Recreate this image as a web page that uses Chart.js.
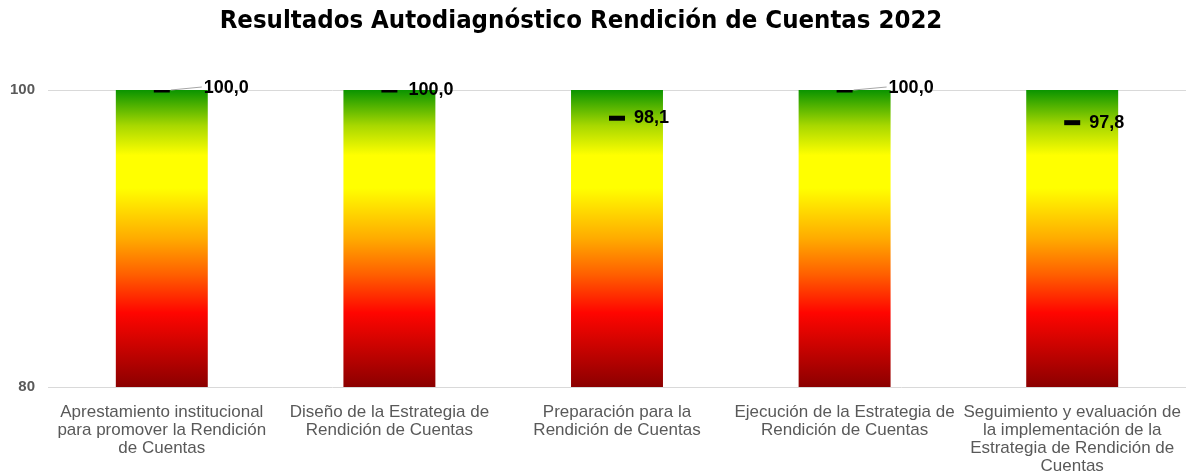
<!DOCTYPE html>
<html>
<head>
<meta charset="utf-8">
<script src="https://cdn.jsdelivr.net/npm/chart.js@4"></script>
<style>
  html, body { margin: 0; padding: 0; background: #fff; }
  #wrap { width: 1199px; height: 475px; }
</style>
</head>
<body>
<div id="wrap"><canvas id="chart"></canvas></div>
<script>
// categorias (eje x)
const categorias = [
    ['Aprestamiento institucional', 'para promover la Rendición', 'de Cuentas'],
    ['Diseño de la Estrategia de', 'Rendición de Cuentas'],
    ['Preparación para la', 'Rendición de Cuentas'],
    ['Ejecución de la Estrategia de', 'Rendición de Cuentas'],
    ['Seguimiento y evaluación de', 'la implementación de la', 'Estrategia de Rendición de', 'Cuentas']
];
// resultado de cada componente
const resultados = [100.0, 100.0, 98.1, 100.0, 97.8];
// tope de la barra de color (escala de semaforo)
const topeEscala = [100, 100, 100, 100, 100];
const ticksY = [80, 100];
const titulo = 'Resultados Autodiagnóstico Rendición de Cuentas 2022';

// desplazamiento de cada etiqueta (x, y) y si lleva linea guia
const etiquetaDx = [42, 19, 17, 44, 17];
const etiquetaDy = [-2, 0, 0, -2, 0];
const conGuia = [true, false, false, true, false];

function gradienteSemaforo(ctx) {
    const area = ctx.chart.chartArea;
    if (!area) return '#ffff00';
    const g = ctx.chart.ctx.createLinearGradient(0, area.top, 0, area.bottom);
    g.addColorStop(0, '#0a9400');
    g.addColorStop(0.12, '#a8d800');
    g.addColorStop(0.22, '#ffff00');
    g.addColorStop(0.33, '#ffff00');
    g.addColorStop(0.5, '#ffab00');
    g.addColorStop(0.62, '#ff6000');
    g.addColorStop(0.75, '#ff0500');
    g.addColorStop(1, '#8b0000');
    return g;
}

// titulo (un poco a la izquierda del centro, como en el original)
const tituloPlugin = {
    id: 'tituloManual',
    afterDraw(chart) {
        const c = chart.ctx;
        c.save();
        c.font = 'bold 25.5px "DejaVu Sans Condensed", "DejaVu Sans", sans-serif';
        c.fillStyle = '#000';
        c.textAlign = 'center';
        c.textBaseline = 'middle';
        c.fillText(titulo, 581, 21);
        c.restore();
    }
};

// dibuja los valores "100,0" junto al marcador
const etiquetasPlugin = {
    id: 'etiquetas',
    afterDatasetsDraw(chart) {
        const c = chart.ctx;
        const meta = chart.getDatasetMeta(1);
        c.save();
        c.font = 'bold 18px "Liberation Sans", Arial, sans-serif';
        c.textBaseline = 'middle';
        c.textAlign = 'left';
        meta.data.forEach((pt, i) => {
            const x = pt.x + etiquetaDx[i];
            const y = pt.y + etiquetaDy[i];
            if (conGuia[i]) {
                c.strokeStyle = '#a6a6a6';
                c.lineWidth = 1;
                c.beginPath();
                c.moveTo(pt.x + 9, pt.y);
                c.lineTo(x - 2, y - 1);
                c.stroke();
            }
            c.fillStyle = '#000';
            c.fillText(resultados[i].toFixed(1).replace('.', ','), x, y);
        });
        c.restore();
    }
};

new Chart(document.getElementById('chart'), {
    data: {
        labels: categorias,
        datasets: [
            {
                type: 'bar',
                data: topeEscala,
                backgroundColor: gradienteSemaforo,
                barPercentage: 0.8,
                categoryPercentage: 0.505,
                order: 2
            },
            {
                type: 'line',
                data: resultados,
                showLine: false,
                pointStyle: 'line',
                pointRadius: 8,
                pointHoverRadius: 8,
                pointBorderWidth: 5,
                borderColor: '#000',
                backgroundColor: '#000',
                order: 1
            }
        ]
    },
    options: {
        responsive: true,
        maintainAspectRatio: false,
        animation: false,
        layout: { padding: { top: 90, right: 9, left: 0, bottom: 0 } },
        plugins: {
            legend: { display: false },
            tooltip: { enabled: false },
            title: { display: false }
        },
        scales: {
            x: {
                grid: { display: false },
                border: { display: false },
                ticks: {
                    color: '#595959',
                    font: { family: '"Liberation Sans", Arial, sans-serif', size: 17, lineHeight: 1.07 },
                    maxRotation: 0,
                    autoSkip: false,
                    padding: 8
                },
                afterFit(s) { s.height = 88; }
            },
            y: {
                min: ticksY[0],
                max: ticksY[ticksY.length - 1],
                afterBuildTicks(s) { s.ticks = ticksY.map(v => ({ value: v })); },
                grid: { color: '#d9d9d9', drawTicks: false },
                border: { display: false },
                ticks: {
                    color: '#595959',
                    font: { family: '"Liberation Sans", Arial, sans-serif', size: 15, weight: 'bold' },
                    padding: 13
                },
                afterFit(s) { s.width = 48; }
            }
        }
    },
    plugins: [etiquetasPlugin, tituloPlugin]
});
</script>
</body>
</html>
